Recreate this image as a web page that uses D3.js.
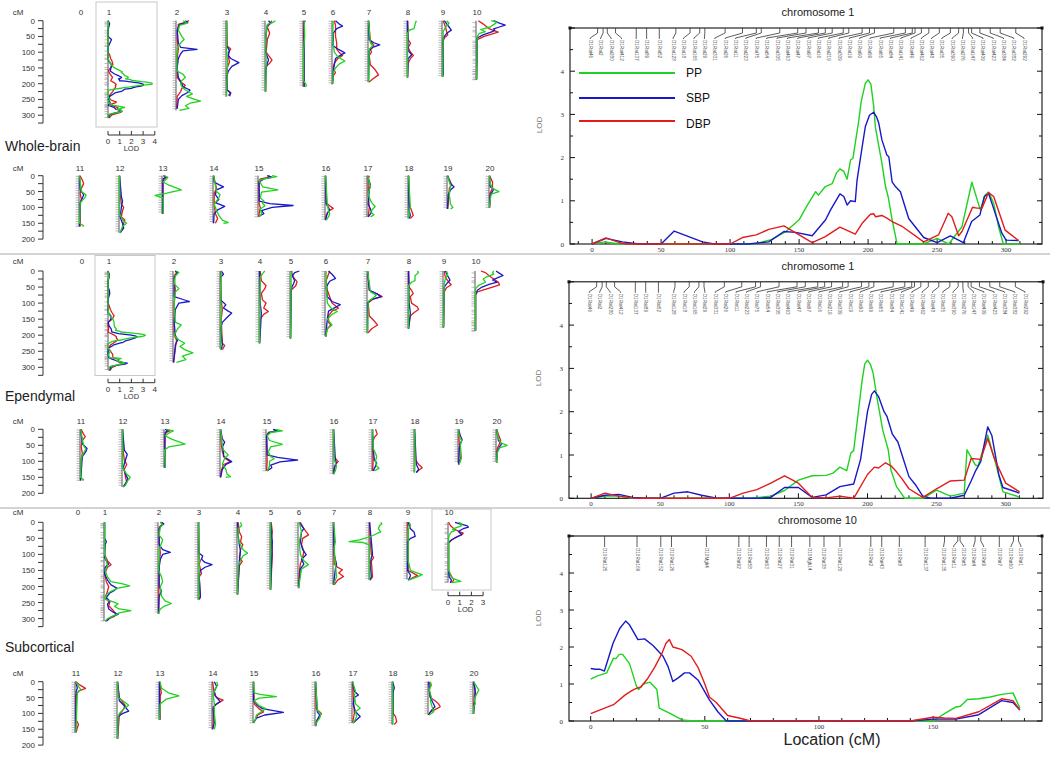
<!DOCTYPE html>
<html><head><meta charset="utf-8">
<script src="https://cdn.jsdelivr.net/npm/d3@7"></script>
<style>body{margin:0;background:#fff}svg{display:block}</style></head>
<body><svg id="c" width="1050" height="757"></svg>
<script>
// ---------------- DATA ----------------
const traits = ["PP", "SBP", "DBP"];
const panelNames = ["Whole-brain", "Ependymal", "Subcortical"];
const chrLengths = [0, 308, 285, 242, 225, 210, 203, 195, 180, 178, 187, 160, 180, 120, 150, 130, 140, 130, 135, 105, 102];

// chromosome 1 markers (cM) and names
const chr1Markers = [4,8,11,17,32,39.5,48.7,60.7,71,78,81.7,96.4,109,119,122.6,136,149,155,164,169,174,182,186,195.7,201,204.6,218.6,227,232,234,238.6,244,251.6,259.6,265.6,269,272.8,275,281,288.5,295.7,307];
const chr1MarkerNames = ["D1Rat46","D1Rat2","D1Rat280","D1Rat412","D1Rat137","D1Rat89","D1Rat52","D1Rat128","D1Rat18","D1Rat165","D1Rat29","D1Rat331","D1Rat26","D1Rat11","D1Rat223","D1Rat75","D1Rat54","D1Rat305","D1Rat463","D1Rat47","D1Rat97","D1Rat16","D1Rat219","D1Rat309","D1Rat19","D1Rat90","D1Rat99","D1Rat65","D1Rat84","D1Rat141","D1Rat49","D1Rat462","D1Rat48","D1Rat35","D1Rat390","D1Rat276","D1Rat147","D1Rat409","D1Rat423","D1Rat384","D1Rat382","D1Rat292"];
const chr10Markers = [6.1,20.3,30.7,35.4,50.7,64.9,69.4,77,82.6,88,96,102.2,109.2,122.7,127.5,135.2,146.5,155,160.8,161.8,168.4,170.9,179,185.2,187.4];
const chr10MarkerNames = ["D10Rat125","D10Rat169","D10Rat152","D10Rat126","D10Mgh4","D10Rat92","D10Rat58","D10Rat63","D10Rat27","D10Rat31","D10Mgh14","D10Rat38","D10Rat120","D10Rat2","D10Rat43","D10Rat8","D10Rat137","D10Rat135","D10Rat11","D10Rat5","D10Rat4","D10Rat9","D10Rat7","D10Rat60","D10Rat1"];

// Right-hand detailed scans: [cM, LOD]
const wb1PP = [[0,0],[9,0.05],[20,0],[115,0],[120,0.02],[130,0.1],[140,0.28],[150,0.56],[156,0.9],[162,1.21],[164,1.13],[169,1.33],[174,1.4],[177,1.64],[179.6,1.74],[182.4,1.68],[184.8,1.5],[187.3,1.95],[189,1.98],[193.3,2.87],[195,3.3],[198,3.72],[200,3.8],[202,3.7],[204,3.2],[205.3,2.7],[210,1.87],[212.6,1.33],[214.5,1.1],[217.4,0.56],[221,0],[240,0],[250,0.13],[258.4,0],[268,0.4],[275.2,1.43],[281.3,0.79],[284.9,1.14],[287.3,1.2],[291,0.94],[294.5,0.4],[298,0],[310,0]];
const wb1SBP = [[0,0],[10,0.13],[22,0.05],[34,0],[50,0],[59.5,0.3],[80,0.05],[88.4,0],[113,0],[128,0.05],[139,0.29],[147.5,0.27],[159.5,0.19],[169.2,0.56],[172.8,0.79],[179.6,1.16],[182.4,1.1],[184.8,0.9],[187.3,1.0],[190.7,0.98],[192,1.48],[195.7,2.25],[198,2.72],[201,2.98],[204,3.05],[206,2.95],[207.7,2.8],[210,2.41],[213.6,2.06],[215,2.02],[217.4,1.44],[219.8,1.33],[223.4,1.21],[229.4,0.59],[240.3,0.15],[250,0.03],[259.6,0.19],[269,0.03],[275,0.52],[281,0.67],[284.2,1.1],[287.3,1.17],[289.7,0.94],[296.9,0.25],[300,0.09],[309,0.08]];
const wb1DBP = [[0,0],[10,0.14],[20,0.03],[25,0],[100,0],[109,0.15],[119,0.21],[128,0.34],[139,0.42],[150,0.21],[159.5,0.03],[169,0.17],[179.6,0.39],[190.7,0.23],[195.7,0.48],[201.7,0.69],[204,0.7],[205.5,0.63],[210,0.66],[213.6,0.6],[217.4,0.52],[225,0.4],[240.3,0.05],[251,0.21],[256,0.56],[258,0.71],[260.7,0.63],[265.6,0.19],[268,0.29],[275.7,0.85],[278.8,0.83],[282.5,0.83],[287.3,1.19],[291,1.1],[299.3,0.32],[309,0.08]];

const ep1PP = [[0,0],[10,0.05],[20,0.05],[30,0],[115,0],[130,0.05],[140,0.18],[150,0.42],[160,0.52],[170,0.53],[175,0.58],[180,0.72],[185,0.64],[188,1.05],[190,1.1],[193,1.9],[196,2.7],[198,3.1],[200,3.19],[202,3.1],[204,2.9],[207,2.3],[211,1.58],[215,1.12],[217,0.65],[221,0.27],[227,0],[240,0],[250,0.19],[260,0.05],[270,0.12],[272,1.12],[278,0.77],[280,0.75],[287,1.46],[292,0.9],[298,0.15],[310,0.03]];
const ep1SBP = [[0,0],[10,0.07],[20,0.09],[30,0.02],[40,0],[50,0],[60,0.12],[70,0.15],[80,0.07],[90,0.01],[100,0],[120,0],[130,0.02],[140,0.25],[150,0.25],[160,0.02],[170,0.08],[180,0.27],[190,0.33],[195,0.9],[200,2.0],[203,2.4],[205,2.48],[208,2.35],[212,2.0],[214,1.9],[218,1.48],[222,1.3],[225,1.0],[230,0.5],[235,0.3],[240,0.05],[245,0.01],[260,0],[270,0.07],[275,0.4],[278,0.62],[282,0.85],[287,1.65],[290,1.45],[295,0.55],[298,0.25],[310,0.12]];
const ep1DBP = [[0,0],[10,0.12],[20,0.05],[30,0.01],[35,0],[100,0],[110,0.12],[120,0.2],[130,0.35],[140,0.52],[150,0.35],[160,0.02],[170,0.01],[180,0.05],[190,0],[200,0.55],[205,0.72],[208,0.7],[213,0.82],[217,0.75],[220,0.65],[225,0.45],[230,0.22],[240,0.02],[250,0.22],[260,0.4],[270,0.42],[275,0.92],[282,0.9],[287,1.38],[292,0.9],[300,0.35],[310,0.15]];

const sc10PP = [[0,1.13],[3,1.22],[7,1.3],[10,1.7],[11,1.68],[12.5,1.8],[14,1.8],[17,1.55],[20,0.95],[21,0.85],[23,1.0],[26,1.05],[29,0.85],[30,0.35],[35,0.2],[40,0.03],[45,0],[150,0],[155,0.2],[160,0.38],[162,0.4],[165,0.58],[170,0.6],[175,0.65],[180,0.72],[185,0.76],[188,0.35]];
const sc10SBP = [[0,1.42],[2,1.4],[4,1.4],[6,1.35],[9.8,2.1],[12.7,2.5],[15.3,2.7],[17,2.6],[20.7,2.2],[23.6,2.22],[27.3,2.04],[31.7,1.75],[33.9,1.47],[36,1.07],[38.2,1.16],[41.1,1.3],[43.3,1.3],[47,1.11],[52,0.57],[55.7,0.25],[59.4,0],[140,0],[150,0.05],[160,0.05],[170,0.17],[180,0.55],[185,0.5],[188,0.3]];
const sc10DBP = [[0,0.2],[10,0.44],[15,0.7],[18,0.82],[20,0.88],[22,0.92],[25,1.15],[28,1.45],[31,1.8],[33,2.1],[34.5,2.2],[36,2.0],[40,1.93],[44,1.75],[47,1.45],[50,1.0],[52,0.65],[55,0.5],[60,0.15],[65,0.08],[70,0],[140,0],[150,0.1],[155,0.08],[160,0.07],[170,0.25],[180,0.6],[185,0.55],[188,0.3]];

// Genome-wide small scans, per chromosome: [cM, LOD]
const wbPP = {1: wb1PP,
 2:[[0,0.6],[8,1.0],[15,0.3],[30,0.2],[50,0.5],[60,0.7],[70,0.4],[90,0.1],[120,0.05],[160,0.1],[170,0.6],[180,0.8],[190,0.5],[200,0.4],[210,0.5],[220,0.8],[232,1.4],[240,0.9],[250,1.6],[255,2.1],[262,1.2],[270,0.8],[278,1.1],[285,0.3]],
 3:[[0,0.05],[100,0.05],[130,0.15],[160,0.1],[240,0.05]],
 4:[[0,0.9],[5,0.7],[12,0.2],[60,0.05],[130,0.1],[225,0.05]],
 5:[[0,0.1],[50,0.15],[70,0.1],[100,0.05],[190,0.05],[205,0.3],[210,0.2]],
 6:[[0,0.1],[60,0.05],[100,0.2],[115,0.5],[128,1.1],[138,0.6],[150,0.3],[165,0.1],[200,0.05]],
 7:[[0,0.05],[70,0.2],[80,0.4],[90,0.1],[195,0.05]],
 8:[[0,0.8],[10,0.7],[25,0.6],[30,0.2],[40,0.05],[180,0.05]],
 9:[[0,0.4],[8,0.6],[20,0.3],[35,0.1],[178,0.05]],
 10:[[0,1.3],[5,1.8],[10,1.6],[20,1.2],[28,0.4],[35,0.8],[40,0.3],[50,0.1],[187,0.05]],
 11:[[0,0.05],[50,0.2],[60,0.6],[70,0.5],[85,0.1],[150,0.05],[158,0.4],[160,0.3]],
 12:[[0,0.05],[120,0.05],[140,0.3],[150,0.65],[160,0.3],[170,0.2],[180,0.1]],
 13:[[0,0.2],[5,0.5],[10,0.4],[20,0.1],[30,0.6],[45,1.65],[55,0.4],[62,-0.6],[70,0.1],[120,0.1]],
 14:[[0,0.05],[50,0.3],[60,0.6],[70,0.5],[80,0.3],[90,0.1],[110,0.3],[125,0.5],[140,0.8],[148,1.3],[150,0.9]],
 15:[[0,1.2],[3,1.6],[10,0.5],[15,0.1],[35,0.4],[45,1.7],[52,0.3],[70,0.2],[80,0.5],[88,0.4],[95,0.6],[105,0.2],[120,0.3],[130,0.1]],
 16:[[0,0.05],[90,0.2],[110,0.3],[120,0.4],[130,0.3],[140,0.1]],
 17:[[0,0.05],[20,0.2],[35,0.3],[55,0.1],[70,0.2],[85,0.4],[97,0.7],[105,0.5],[115,0.3],[123,0.6],[130,0.3]],
 18:[[0,0.05],[100,0.2],[110,0.1],[135,0.05]],
 19:[[0,0.05],[20,0.2],[30,0.3],[60,0.2],[90,0.3],[100,0.5],[105,0.3]],
 20:[[0,0.05],[25,0.1],[40,0.3],[50,0.85],[58,0.2],[75,0.1],[100,0.05]]};
const wbSBP = {1: wb1SBP,
 2:[[0,0.8],[5,1.0],[12,0.3],[30,0.1],[70,0.2],[85,0.4],[91,1.8],[96,0.6],[105,0.4],[120,0.2],[150,0.1],[180,0.2],[200,0.5],[210,0.6],[220,1.2],[228,1.0],[238,0.5],[250,0.2],[280,0.1]],
 3:[[0,0.05],[80,0.05],[95,0.3],[110,0.2],[120,0.4],[133,1.1],[145,0.5],[160,0.2],[180,0.05],[220,0.1],[230,0.4],[240,0.3]],
 4:[[0,0.3],[8,0.5],[15,0.2],[40,0.1],[100,0.05],[125,0.3],[135,0.2],[160,0.05],[225,0.05]],
 5:[[0,0.2],[5,0.1],[210,0.1]],
 6:[[0,0.3],[10,0.6],[17,0.9],[25,0.4],[40,0.1],[80,0.1],[92,0.6],[102,1.1],[110,0.7],[120,0.3],[140,0.2],[160,0.1],[200,0.05]],
 7:[[0,0.05],[60,0.1],[70,0.5],[77,1.0],[85,0.4],[95,0.1],[195,0.05]],
 8:[[0,0.05],[95,0.1],[108,0.4],[120,0.1],[180,0.05]],
 9:[[0,0.2],[10,0.4],[20,0.6],[30,0.8],[40,0.4],[55,0.1],[170,0.1],[178,0.05]],
 10:[[0,1.5],[8,2.0],[14,2.5],[20,2.0],[26,1.5],[30,1.6],[35,1.4],[45,0.6],[55,0.1],[187,0.05]],
 11:[[0,0.05],[45,0.1],[60,0.4],[70,0.3],[85,0.1],[160,0.05]],
 12:[[0,0.05],[65,0.2],[80,0.3],[100,0.2],[130,0.1],[150,0.3],[165,0.4],[180,0.1]],
 13:[[0,0.2],[5,0.3],[10,0.1],[120,0.05]],
 14:[[0,0.05],[20,0.1],[28,0.5],[35,0.9],[45,0.3],[60,0.2],[75,0.5],[85,0.2],[97,1.0],[108,0.4],[120,0.1],[150,0.05]],
 15:[[0,0.8],[5,1.2],[10,0.5],[20,0.1],[80,0.1],[88,1.0],[94,3.0],[100,1.2],[110,0.3],[120,0.5],[125,0.2],[130,0.1]],
 16:[[0,0.05],[90,0.1],[100,0.3],[108,0.4],[118,0.2],[140,0.05]],
 17:[[0,0.05],[30,0.3],[40,0.2],[90,0.1],[105,0.3],[115,0.4],[125,0.2],[130,0.1]],
 18:[[0,0.05],[110,0.1],[125,0.2],[135,0.1]],
 19:[[0,0.05],[25,0.3],[35,0.6],[45,0.3],[60,0.1],[105,0.05]],
 20:[[0,0.05],[35,0.1],[42,0.4],[50,0.3],[60,0.1],[100,0.05]]};
const wbDBP = {1: wb1DBP,
 2:[[0,1.1],[5,0.8],[12,0.2],[40,0.1],[60,0.1],[90,0.2],[120,0.1],[180,0.1],[195,0.4],[205,0.8],[215,0.5],[225,0.4],[240,0.1],[278,0.05]],
 3:[[0,0.05],[80,0.1],[90,0.4],[100,0.2],[115,0.2],[130,0.3],[150,0.1],[220,0.1],[228,0.4],[238,0.2]],
 4:[[0,0.6],[10,0.4],[20,0.2],[40,0.4],[60,0.2],[100,0.1],[110,0.3],[125,0.6],[135,0.4],[145,0.1],[225,0.05]],
 5:[[0,0.05],[210,0.1]],
 6:[[0,0.2],[15,0.3],[30,0.3],[50,0.3],[70,0.4],[90,0.4],[100,0.6],[110,0.9],[120,0.5],[135,0.2],[150,0.1],[165,0.3],[175,0.1],[200,0.05]],
 7:[[0,0.05],[65,0.2],[78,0.5],[90,0.2],[100,0.3],[110,0.1],[140,0.2],[155,0.6],[172,0.9],[185,0.4],[195,0.1]],
 8:[[0,0.05],[60,0.1],[72,0.3],[85,0.1],[100,0.3],[110,0.55],[120,0.3],[135,0.1],[180,0.05]],
 9:[[0,0.1],[20,0.3],[35,0.4],[45,0.5],[55,0.2],[70,0.05],[178,0.05]],
 10:[[0,0.2],[10,0.6],[25,1.1],[32,1.6],[36,1.9],[42,1.4],[50,0.7],[60,0.1],[187,0.05]],
 11:[[0,0.1],[15,0.3],[25,0.4],[40,0.2],[55,0.1],[75,0.2],[90,0.1],[160,0.1]],
 12:[[0,0.05],[60,0.1],[90,0.2],[100,0.4],[110,0.3],[130,0.2],[140,0.5],[150,0.4],[165,0.3],[180,0.1]],
 13:[[0,0.1],[5,0.4],[10,0.2],[20,0.05],[120,0.1]],
 14:[[0,0.05],[40,0.3],[55,0.1],[90,0.1],[120,0.2],[135,0.4],[150,0.2]],
 15:[[0,0.8],[4,1.1],[10,0.2],[20,0.05],[60,0.1],[90,0.1],[100,0.2],[130,0.05]],
 16:[[0,0.05],[85,0.1],[95,0.4],[103,0.7],[112,0.3],[125,0.1],[140,0.05]],
 17:[[0,0.2],[10,0.1],[30,0.1],[60,0.1],[100,0.2],[130,0.1]],
 18:[[0,0.05],[90,0.1],[110,0.3],[125,0.45],[135,0.2]],
 19:[[0,0.05],[20,0.3],[28,0.4],[40,0.2],[90,0.1],[105,0.05]],
 20:[[0,0.05],[20,0.3],[40,0.3],[55,0.1],[100,0.05]]};

const epPP = {1: ep1PP,
 2:[[0,0.3],[5,0.5],[15,0.2],[40,0.1],[55,0.5],[65,0.2],[100,0.1],[160,0.2],[168,0.7],[180,0.4],[200,0.1],[215,0.5],[225,1.0],[235,0.6],[245,1.0],[255,1.7],[265,0.8],[276,1.1],[285,0.3]],
 3:[[0,0.1],[50,0.05],[150,0.1],[245,0.05]],
 4:[[0,0.5],[8,0.3],[20,0.1],[225,0.05]],
 5:[[0,0.2],[10,0.1],[210,0.05]],
 6:[[0,0.1],[40,0.1],[100,0.2],[115,0.5],[126,1.05],[135,0.6],[150,0.2],[168,0.6],[180,0.2],[205,0.05]],
 7:[[0,0.05],[65,0.3],[75,0.8],[82,0.6],[95,0.1],[193,0.05]],
 8:[[0,0.8],[5,0.9],[15,0.6],[30,0.6],[35,0.3],[45,0.05],[180,0.05]],
 9:[[0,0.3],[10,0.4],[25,0.2],[40,0.1],[175,0.05]],
 10:[[0,1.6],[5,1.5],[10,1.6],[18,1.0],[25,0.7],[35,0.9],[45,0.3],[55,0.05],[185,0.05]],
 11:[[0,0.05],[50,0.3],[62,0.5],[75,0.3],[90,0.1],[150,0.05],[158,0.3],[160,0.2]],
 12:[[0,0.05],[120,0.05],[140,0.4],[150,0.7],[160,0.5],[175,0.3],[180,0.1]],
 13:[[0,0.2],[5,0.8],[10,0.5],[20,0.1],[30,0.6],[46,1.8],[55,0.4],[65,0.05],[120,0.1]],
 14:[[0,0.05],[50,0.2],[65,0.3],[80,0.7],[90,0.4],[110,0.2],[125,0.5],[140,0.6],[148,0.9],[150,0.5]],
 15:[[0,0.8],[5,1.4],[10,0.4],[20,0.1],[35,0.3],[47,1.4],[55,0.4],[70,0.2],[85,0.4],[92,0.7],[100,0.3],[115,0.3],[130,0.1]],
 16:[[0,0.05],[95,0.1],[115,0.3],[130,0.2],[140,0.05]],
 17:[[0,0.05],[60,0.1],[75,0.3],[85,0.4],[100,0.3],[115,0.4],[122,0.6],[130,0.2]],
 18:[[0,0.05],[100,0.1],[135,0.05]],
 19:[[0,0.05],[20,0.1],[35,0.3],[50,0.2],[90,0.3],[100,0.2],[110,0.1]],
 20:[[0,0.05],[30,0.2],[42,0.4],[50,0.95],[58,0.3],[75,0.1],[105,0.05]]};
const epSBP = {1: ep1SBP,
 2:[[0,0.2],[5,0.4],[20,0.1],[60,0.1],[80,0.1],[88,0.8],[95,1.4],[100,0.5],[120,0.2],[160,0.1],[200,0.2],[215,0.4],[230,0.2],[285,0.05]],
 3:[[0,0.1],[10,0.3],[20,0.05],[90,0.05],[105,0.5],[115,0.3],[125,0.7],[131,1.0],[145,0.6],[160,0.2],[180,0.05],[230,0.2],[245,0.1]],
 4:[[0,0.05],[100,0.1],[130,0.2],[200,0.1],[225,0.05]],
 5:[[0,0.8],[5,0.4],[15,0.2],[30,0.4],[40,0.3],[55,0.1],[210,0.05]],
 6:[[0,0.3],[10,0.6],[23,0.9],[32,0.4],[50,0.1],[80,0.2],[95,0.6],[105,1.3],[115,0.8],[125,0.3],[150,0.2],[205,0.05]],
 7:[[0,0.05],[60,0.2],[72,0.9],[80,1.2],[90,0.3],[100,0.05],[193,0.05]],
 8:[[0,0.05],[100,0.1],[130,0.2],[180,0.05]],
 9:[[0,0.2],[15,0.4],[28,0.6],[40,0.3],[50,0.1],[175,0.05]],
 10:[[0,1.8],[5,2.0],[14,2.4],[20,2.0],[28,1.5],[35,1.9],[42,1.2],[50,0.6],[60,0.2],[75,0.05],[185,0.05]],
 11:[[0,0.05],[45,0.2],[60,0.6],[70,0.5],[85,0.2],[160,0.05]],
 12:[[0,0.05],[65,0.2],[78,0.45],[95,0.3],[120,0.1],[140,0.3],[155,0.5],[170,0.3],[180,0.1]],
 13:[[0,0.1],[5,0.3],[10,0.1],[120,0.05]],
 14:[[0,0.05],[30,0.2],[40,0.4],[55,0.2],[70,0.3],[85,0.3],[101,1.0],[110,0.5],[125,0.2],[150,0.05]],
 15:[[0,0.6],[5,1.0],[10,0.3],[20,0.05],[80,0.1],[88,1.0],[96,2.7],[102,1.2],[112,0.4],[120,0.5],[130,0.1]],
 16:[[0,0.05],[95,0.2],[105,0.3],[120,0.1],[140,0.05]],
 17:[[0,0.05],[60,0.1],[95,0.2],[106,0.4],[115,0.3],[130,0.1]],
 18:[[0,0.05],[110,0.2],[125,0.4],[135,0.2]],
 19:[[0,0.05],[20,0.2],[33,0.35],[45,0.2],[60,0.1],[110,0.05]],
 20:[[0,0.05],[35,0.2],[45,0.5],[55,0.3],[70,0.1],[105,0.05]]};
const epDBP = {1: ep1DBP,
 2:[[0,0.2],[5,0.3],[15,0.1],[60,0.2],[100,0.1],[200,0.1],[215,0.3],[285,0.05]],
 3:[[0,0.05],[90,0.1],[120,0.2],[150,0.1],[225,0.2],[232,0.4],[245,0.2]],
 4:[[0,0.1],[30,0.2],[45,0.6],[55,0.5],[70,0.2],[90,0.3],[100,0.6],[115,0.4],[126,0.8],[135,0.4],[150,0.1],[225,0.05]],
 5:[[0,0.1],[20,0.3],[33,0.6],[45,0.5],[60,0.1],[210,0.05]],
 6:[[0,0.4],[10,0.3],[30,0.1],[60,0.2],[80,0.4],[100,0.6],[116,1.15],[125,0.6],[140,0.3],[160,0.3],[168,0.5],[180,0.2],[205,0.05]],
 7:[[0,0.05],[60,0.2],[70,0.8],[80,1.3],[88,0.5],[100,0.1],[140,0.2],[155,0.6],[168,0.9],[180,0.4],[193,0.1]],
 8:[[0,0.05],[50,0.1],[60,0.3],[70,0.45],[80,0.2],[100,0.3],[112,0.8],[120,0.9],[130,0.5],[140,0.2],[180,0.05]],
 9:[[0,0.1],[20,0.2],[35,0.5],[43,0.7],[52,0.3],[65,0.1],[175,0.05]],
 10:[[0,0.5],[5,0.9],[15,1.2],[25,1.6],[35,2.0],[43,2.1],[50,1.5],[58,0.8],[65,0.2],[75,0.05],[185,0.05]],
 11:[[0,0.1],[15,0.3],[23,0.45],[35,0.2],[55,0.1],[75,0.2],[95,0.1],[160,0.05]],
 12:[[0,0.05],[70,0.1],[95,0.2],[110,0.4],[125,0.2],[150,0.3],[165,0.4],[180,0.1]],
 13:[[0,0.2],[5,0.5],[10,0.2],[20,0.05],[120,0.1]],
 14:[[0,0.05],[40,0.1],[70,0.2],[90,0.4],[101,0.9],[110,0.3],[130,0.1],[150,0.05]],
 15:[[0,0.7],[5,0.95],[10,0.2],[20,0.05],[100,0.1],[130,0.05]],
 16:[[0,0.05],[85,0.1],[95,0.3],[101,0.45],[110,0.2],[140,0.05]],
 17:[[0,0.3],[15,0.45],[25,0.2],[40,0.05],[100,0.1],[130,0.05]],
 18:[[0,0.05],[95,0.1],[110,0.4],[120,0.7],[128,0.4],[135,0.2]],
 19:[[0,0.05],[40,0.1],[90,0.2],[110,0.05]],
 20:[[0,0.05],[15,0.2],[35,0.4],[45,0.3],[60,0.1],[105,0.05]]};

const scPP = {
 1:[[0,0.05],[100,0.05],[120,0.2],[135,0.3],[150,0.1],[170,0.3],[185,0.6],[192,1.6],[198,2.2],[205,1.2],[215,0.6],[225,0.2],[240,0.1],[248,0.8],[254,1.2],[262,0.9],[270,1.3],[275,2.3],[282,1.3],[290,0.9],[300,0.3],[308,0.1]],
 2:[[0,0.2],[8,0.4],[15,0.2],[40,0.1],[55,0.4],[65,0.3],[85,0.1],[120,0.1],[150,0.05],[170,0.3],[185,0.4],[200,0.2],[230,0.3],[245,0.6],[253,1.15],[262,0.5],[270,0.2],[278,0.1],[285,0.05]],
 3:[[0,0.05],[150,0.1],[240,0.05]],
 4:[[0,0.3],[10,0.4],[20,0.1],[50,0.1],[70,0.3],[85,0.5],[96,0.9],[105,0.5],[120,0.3],[135,0.1],[225,0.05]],
 5:[[0,0.05],[210,0.05]],
 6:[[0,0.1],[30,0.3],[60,0.1],[100,0.2],[120,0.5],[132,0.9],[145,0.3],[205,0.05]],
 7:[[0,0.05],[60,0.2],[80,0.1],[170,0.3],[195,0.05]],
 8:[[0,1.0],[5,1.1],[10,0.9],[20,0.8],[30,1.0],[38,0.5],[45,0.1],[55,-0.8],[60,-1.7],[63,-0.5],[70,0.05],[180,0.05]],
 9:[[0,0.2],[10,0.3],[25,0.1],[120,0.1],[150,0.3],[158,0.9],[163,1.3],[170,0.9],[178,0.3],[180,0.1]],
 10:[[0,0.9],[5,1.2],[12,1.1],[18,0.6],[22,0.4],[26,0.6],[30,0.3],[40,0.1],[50,0.05],[150,0.05],[160,0.2],[175,0.4],[184,1.1],[188,0.3]],
 11:[[0,0.05],[15,0.3],[25,0.5],[35,0.2],[140,0.1],[160,0.05]],
 12:[[0,0.05],[50,0.1],[60,0.5],[74,1.0],[85,0.6],[100,0.2],[110,0.1],[180,0.05]],
 13:[[0,0.1],[20,0.2],[35,0.8],[45,1.7],[55,0.6],[70,0.1],[120,0.05]],
 14:[[0,0.4],[10,0.5],[20,0.3],[40,0.1],[70,0.2],[100,0.2],[135,0.3],[150,0.2]],
 15:[[0,0.05],[35,0.1],[40,0.6],[47,2.0],[52,0.5],[60,0.1],[75,0.5],[85,1.1],[95,0.7],[105,0.3],[120,0.2],[130,0.05]],
 16:[[0,0.05],[90,0.2],[100,0.5],[115,0.4],[130,0.1],[140,0.05]],
 17:[[0,0.05],[30,0.3],[45,0.2],[70,0.3],[84,0.7],[95,0.3],[110,0.4],[125,0.2],[130,0.05]],
 18:[[0,0.05],[135,0.05]],
 19:[[0,0.2],[10,0.3],[25,0.1],[50,0.3],[60,0.2],[85,0.4],[95,0.5],[105,0.1]],
 20:[[0,0.05],[15,0.3],[26,0.5],[40,0.3],[55,0.1],[70,0.2],[80,0.05],[102,0.05]]};
const scSBP = {
 1:[[0,0.05],[50,0.05],[60,0.2],[70,0.1],[110,0.05],[120,0.2],[130,0.4],[140,0.1],[160,0.05],[180,0.3],[195,0.6],[205,1.1],[212,0.9],[220,0.5],[235,0.2],[245,0.5],[255,0.3],[270,0.4],[280,0.8],[287,1.2],[295,0.6],[308,0.2]],
 2:[[0,0.3],[5,0.5],[10,0.3],[20,0.1],[70,0.1],[85,0.4],[94,1.05],[100,0.4],[115,0.2],[140,0.1],[200,0.1],[215,0.3],[230,0.1],[285,0.05]],
 3:[[0,0.05],[95,0.05],[105,0.4],[115,0.3],[125,0.6],[132,1.2],[140,0.6],[150,0.2],[165,0.1],[230,0.2],[240,0.1]],
 4:[[0,0.05],[40,0.1],[70,0.2],[90,0.3],[120,0.2],[225,0.05]],
 5:[[0,0.05],[60,0.2],[210,0.05]],
 6:[[0,0.1],[10,0.3],[20,0.5],[30,0.3],[60,0.2],[85,0.4],[101,0.7],[115,0.3],[130,0.5],[145,0.2],[205,0.05]],
 7:[[0,0.05],[100,0.1],[130,0.3],[145,0.2],[195,0.05]],
 8:[[0,0.05],[100,0.3],[110,0.2],[130,0.1],[170,0.2],[180,0.05]],
 9:[[0,0.1],[20,0.3],[30,0.6],[44,0.7],[50,0.3],[60,0.05],[150,0.05],[165,0.3],[175,0.2],[180,0.1]],
 10:[[0,0.6],[5,1.0],[10,1.6],[15,1.75],[20,1.3],[28,0.9],[33,1.0],[38,1.2],[45,0.8],[55,0.3],[62,0.05],[150,0.05],[170,0.1],[180,0.3],[188,0.2]],
 11:[[0,0.05],[20,0.2],[30,0.1],[160,0.05]],
 12:[[0,0.05],[60,0.2],[75,0.6],[93,1.0],[100,0.5],[110,0.1],[180,0.05]],
 13:[[0,0.05],[120,0.05]],
 14:[[0,0.2],[15,0.4],[30,0.2],[45,0.3],[63,0.7],[72,0.3],[85,0.1],[130,0.2],[150,0.05]],
 15:[[0,0.05],[60,0.05],[75,0.4],[85,0.8],[97,2.6],[105,1.0],[115,0.3],[125,0.1],[130,0.05]],
 16:[[0,0.05],[95,0.2],[105,0.4],[120,0.2],[140,0.05]],
 17:[[0,0.05],[30,0.2],[42,0.55],[50,0.2],[70,0.1],[95,0.3],[110,0.7],[120,0.4],[130,0.1]],
 18:[[0,0.05],[20,0.2],[30,0.1],[135,0.05]],
 19:[[0,0.05],[20,0.1],[50,0.2],[65,0.4],[79,0.6],[90,0.3],[105,0.05]],
 20:[[0,0.05],[35,0.2],[102,0.05]]};
const scDBP = {
 1:[[0,0.05],[100,0.05],[120,0.3],[132,0.6],[140,0.3],[160,0.05],[185,0.2],[200,0.4],[215,0.3],[235,0.1],[250,0.5],[260,0.4],[275,0.8],[285,1.0],[293,0.9],[300,0.4],[308,0.1]],
 2:[[0,0.2],[5,0.4],[15,0.1],[60,0.1],[95,0.2],[130,0.1],[285,0.05]],
 3:[[0,0.05],[110,0.1],[120,0.2],[130,0.1],[160,0.3],[170,0.1],[235,0.2],[240,0.1]],
 4:[[0,0.1],[30,0.2],[45,0.4],[60,0.3],[70,0.5],[85,0.3],[110,0.2],[122,0.45],[135,0.2],[225,0.05]],
 5:[[0,0.1],[30,0.2],[50,0.1],[100,0.2],[210,0.05]],
 6:[[0,0.2],[20,0.5],[39,0.9],[50,0.4],[70,0.3],[90,0.5],[110,0.4],[130,0.2],[160,0.1],[205,0.05]],
 7:[[0,0.05],[130,0.1],[140,0.4],[148,0.8],[158,0.5],[169,0.9],[180,0.4],[195,0.1]],
 8:[[0,0.05],[60,0.1],[100,0.2],[110,0.4],[120,0.2],[170,0.3],[180,0.1]],
 9:[[0,0.05],[40,0.1],[150,0.1],[160,0.6],[166,0.9],[172,0.5],[180,0.2]],
 10:[[0,0.05],[10,0.2],[20,0.5],[28,0.9],[34,1.3],[40,1.1],[48,0.6],[55,0.3],[65,0.05],[150,0.05],[165,0.2],[178,0.5],[185,0.4],[188,0.2]],
 11:[[0,0.1],[10,0.4],[21,0.9],[30,0.3],[45,0.05],[120,0.1],[135,0.3],[145,0.2],[160,0.1]],
 12:[[0,0.05],[50,0.2],[65,0.5],[75,0.7],[90,0.5],[105,0.2],[180,0.05]],
 13:[[0,0.05],[35,0.2],[45,0.1],[120,0.1]],
 14:[[0,0.05],[40,0.2],[50,0.4],[58,0.95],[68,0.5],[80,0.1],[130,0.1],[150,0.05]],
 15:[[0,0.05],[70,0.1],[85,0.5],[95,0.9],[105,0.4],[120,0.2],[130,0.05]],
 16:[[0,0.05],[85,0.1],[100,0.55],[110,0.4],[125,0.1],[140,0.05]],
 17:[[0,0.05],[40,0.1],[100,0.2],[130,0.05]],
 18:[[0,0.05],[100,0.1],[110,0.3],[126,0.4],[135,0.2]],
 19:[[0,0.05],[10,0.2],[30,0.1],[50,0.2],[60,0.6],[70,0.9],[79,1.05],[88,0.6],[95,0.2],[105,0.05]],
 20:[[0,0.05],[25,0.2],[50,0.1],[102,0.05]]};

// ---------------- LAYOUT ----------------
const COL = {PP: "#1fd21f", SBP: "#1818c8", DBP: "#e21c1c"};
const panelLayouts = [
  {nameY: 151, cmX: 43, lodAxis: {y: 135, x: 108, max: 4}, box: [96, 2, 61, 125],
   rows: [{y0: 20.7, k: 0.315, labY: 15, max: 325, xs: [80,108,176,226,265,303,332,368,407,442,476]},
          {y0: 175.7, k: 0.317, labY: 170.5, max: 200, xs: [79,119,162,213,258,325,367,408,447,489]}]},
  {nameY: 401, cmX: 43, lodAxis: {y: 382.7, x: 108, max: 4}, box: [95, 255.5, 60, 120],
   rows: [{y0: 271, k: 0.321, labY: 264, max: 325, xs: [81,108,173,220,259,290,325,367,408,443,475]},
          {y0: 429.3, k: 0.32, labY: 423.5, max: 200, xs: [80,122,164,220,266,333,372,414,458,496]}]},
  {nameY: 652, cmX: 43, lodAxis: {y: 595.7, x: 448, max: 3}, box: [432, 509, 59, 81],
   rows: [{y0: 522.3, k: 0.321, labY: 515, max: 325, xs: [77,104,158,198,237,270,298,333,369,407,448]},
          {y0: 681.7, k: 0.317, labY: 676, max: 200, xs: [75,117,159,212,253,315,352,392,428,473]}]}
];
const panelData = [
  {PP: wbPP, SBP: wbSBP, DBP: wbDBP},
  {PP: epPP, SBP: epSBP, DBP: epDBP},
  {PP: scPP, SBP: scSBP, DBP: scDBP}
];
const LODPX = 11.7;

const svg = d3.select("#c");
const FONT = "Liberation Sans, Arial, sans-serif";

// separators
[254, 508].forEach(y => svg.append("line").attr("x1", 0).attr("x2", 1050).attr("y1", y).attr("y2", y)
  .attr("stroke", "#c4c4c4").attr("stroke-width", 1.5));

panelLayouts.forEach((L, pi) => {
  const g = svg.append("g");
  const D = panelData[pi];
  g.append("rect").attr("x", L.box[0]).attr("y", L.box[1]).attr("width", L.box[2]).attr("height", L.box[3])
    .attr("fill", "none").attr("stroke", "#c8c8c8").attr("stroke-width", 1);
  g.append("text").attr("x", 5).attr("y", L.nameY).text(panelNames[pi])
    .attr("font-family", FONT).attr("font-size", 14).attr("fill", "#222");
  const la = L.lodAxis;
  const ls = d3.scaleLinear().domain([0, la.max]).range([la.x, la.x + la.max * LODPX]);
  g.append("line").attr("x1", ls(0)).attr("x2", ls(la.max)).attr("y1", la.y).attr("y2", la.y).attr("stroke", "#333");
  d3.range(0, la.max + 1).forEach(v => {
    g.append("line").attr("x1", ls(v)).attr("x2", ls(v)).attr("y1", la.y).attr("y2", la.y - 4).attr("stroke", "#333");
    g.append("text").attr("x", ls(v)).attr("y", la.y + 9).text(v).attr("text-anchor", "middle")
      .attr("font-family", FONT).attr("font-size", 8).attr("fill", "#333");
  });
  g.append("text").attr("x", ls(la.max / 2)).attr("y", la.y + 16).text("LOD").attr("text-anchor", "middle")
    .attr("font-family", FONT).attr("font-size", 7.5).attr("fill", "#333");

  L.rows.forEach((R, ri) => {
    const yS = d3.scaleLinear().domain([0, 1]).range([R.y0, R.y0 + R.k]);
    g.append("text").attr("x", 18).attr("y", R.labY).text("cM").attr("text-anchor", "middle")
      .attr("font-family", FONT).attr("font-size", 8).attr("fill", "#333");
    g.append("line").attr("x1", L.cmX).attr("x2", L.cmX).attr("y1", yS(0)).attr("y2", yS(R.max)).attr("stroke", "#333");
    d3.range(0, R.max + 1, 25).forEach(v => {
      g.append("line").attr("x1", L.cmX - 5).attr("x2", L.cmX).attr("y1", yS(v)).attr("y2", yS(v)).attr("stroke", "#333");
      if (v % 50 === 0) g.append("text").attr("x", L.cmX - 8).attr("y", yS(v) + 3).text(v).attr("text-anchor", "end")
        .attr("font-family", FONT).attr("font-size", 8).attr("fill", "#333");
    });
    const chrs = ri === 0 ? d3.range(0, 11) : d3.range(11, 21);
    chrs.forEach((c, i) => {
      const x = R.xs[i];
      g.append("text").attr("x", x + 1).attr("y", R.labY).text(c).attr("text-anchor", "middle")
        .attr("font-family", FONT).attr("font-size", 8).attr("fill", "#333");
      if (c === 0) return;
      const len = chrLengths[c];
      g.append("line").attr("x1", x).attr("x2", x).attr("y1", yS(0)).attr("y2", yS(len)).attr("stroke", "#555").attr("stroke-width", 1);
      const marks = c === 1 ? chr1Markers : (c === 10 ? chr10Markers : d3.range(2, len, 7.5));
      marks.forEach(m => g.append("line").attr("x1", x - 3.5).attr("x2", x).attr("y1", yS(m)).attr("y2", yS(m))
        .attr("stroke", "#8a8a8a").attr("stroke-width", 0.6));
      ["DBP", "SBP", "PP"].forEach(t => {
        const pts = D[t][c];
        if (!pts) return;
        const line = d3.line().x(d => x + d[1] * LODPX).y(d => yS(d[0]));
        g.append("path").attr("d", line(pts)).attr("fill", "none").attr("stroke", COL[t]).attr("stroke-width", 1.3)
          .attr("stroke-linejoin", "round");
      });
    });
  });
});

// ---------------- Detailed plots ----------------
function spread(xs, gap, lo, hi) {
  const p = xs.slice();
  for (let it = 0; it < 800; it++) {
    for (let i = 1; i < p.length; i++) {
      const d = p[i] - p[i - 1];
      if (d < gap) { const m = (gap - d) / 2; p[i - 1] -= m; p[i] += m; }
    }
    if (p[0] < lo) p[0] = lo;
    if (p[p.length - 1] > hi) p[p.length - 1] = hi;
  }
  return p;
}

const bigPlots = [
  {title: "chromosome 1", x0: 570, x1: 1042, y0: 28, y1: 244, dom: [-16, 326], ticks: [0,50,100,150,200,250,300],
   markers: chr1Markers, names: chr1MarkerNames, series: {PP: wb1PP, SBP: wb1SBP, DBP: wb1DBP}, legend: true, lodY: 125, gap: 10.45},
  {title: "chromosome 1", x0: 569, x1: 1043, y0: 281.8, y1: 498.3, dom: [-16, 327], ticks: [0,50,100,150,200,250,300],
   markers: chr1Markers, names: chr1MarkerNames, series: {PP: ep1PP, SBP: ep1SBP, DBP: ep1DBP}, legend: false, lodY: 378, gap: 10.45},
  {title: "chromosome 10", x0: 569, x1: 1042, y0: 536, y1: 721, dom: [-9.5, 197.7], ticks: [0,50,100,150],
   markers: chr10Markers, names: chr10MarkerNames, series: {PP: sc10PP, SBP: sc10SBP, DBP: sc10DBP}, legend: false, lodY: 618, gap: 10, xlabel: "Location (cM)"}
];

bigPlots.forEach(P => {
  const g = svg.append("g");
  const x = d3.scaleLinear().domain(P.dom).range([P.x0, P.x1]);
  const y = d3.scaleLinear().domain([0, 5]).range([P.y1, P.y0]);
  g.append("rect").attr("x", P.x0).attr("y", P.y0).attr("width", P.x1 - P.x0).attr("height", P.y1 - P.y0)
    .attr("fill", "none").attr("stroke", "#111").attr("stroke-width", 1.1);
  [P.x0, P.x1].forEach(cx => g.append("rect").attr("x", cx - 1.5).attr("y", P.y0 - 1.5).attr("width", 3).attr("height", 3).attr("fill", "#111"));
  g.append("text").attr("x", (P.x0 + P.x1) / 2 + 12).attr("y", P.y0 - 12).text(P.title).attr("text-anchor", "middle")
    .attr("font-family", FONT).attr("font-size", 11).attr("fill", "#222");
  d3.range(0, 5.01, 0.5).forEach(v => {
    const L = Number.isInteger(v) ? 5 : 3;
    g.append("line").attr("x1", P.x0).attr("x2", P.x0 + L).attr("y1", y(v)).attr("y2", y(v)).attr("stroke", "#111");
    g.append("line").attr("x1", P.x1).attr("x2", P.x1 - L).attr("y1", y(v)).attr("y2", y(v)).attr("stroke", "#111");
    if (Number.isInteger(v) && v < 5) g.append("text").attr("x", P.x0 - 6).attr("y", y(v) + 2.5).text(v).attr("text-anchor", "end")
      .attr("font-family", "Liberation Serif, serif").attr("font-size", 7).attr("fill", "#333");
  });
  d3.range(Math.ceil(P.dom[0] / 10) * 10, P.dom[1], 10).forEach(v => {
    const L = v % 50 === 0 ? 5 : 3;
    g.append("line").attr("x1", x(v)).attr("x2", x(v)).attr("y1", P.y1).attr("y2", P.y1 - L).attr("stroke", "#111");
  });
  P.ticks.forEach(v => g.append("text").attr("x", x(v)).attr("y", P.y1 + 8).text(v).attr("text-anchor", "middle")
    .attr("font-family", "Liberation Serif, serif").attr("font-size", 7).attr("fill", "#333"));
  g.append("text").attr("transform", `translate(${P.x0 - 28},${P.lodY}) rotate(-90)`).text("LOD").attr("text-anchor", "middle")
    .attr("font-family", FONT).attr("font-size", 8).attr("fill", "#777");
  if (P.xlabel) g.append("text").attr("x", 832).attr("y", 745).text(P.xlabel).attr("text-anchor", "middle")
    .attr("font-family", FONT).attr("font-size", 16).attr("fill", "#222");
  const mx = P.markers.map(m => x(m));
  const lx = spread(mx, P.gap, x(P.dom[0]) + 20, x(P.dom[1]) - 18);
  mx.forEach((m, i) => {
    g.append("path").attr("d", `M${m},${P.y0}L${m},${P.y0 + 5}L${lx[i]},${P.y0 + 10}L${lx[i]},${P.y0 + 11}`)
      .attr("fill", "none").attr("stroke", "#333").attr("stroke-width", 0.8);
    g.append("text").attr("transform", `translate(${lx[i] - 1.5},${P.y0 + 12}) rotate(90)`).text(P.names[i])
      .attr("font-family", FONT).attr("font-size", 4.6).attr("fill", "#555");
  });
  const line = d3.line().x(d => x(d[0])).y(d => y(d[1]));
  traits.forEach(t => g.append("path").attr("d", line(P.series[t])).attr("fill", "none").attr("stroke", COL[t])
    .attr("stroke-width", 1.4).attr("stroke-linejoin", "round"));
  if (P.legend) {
    const ly = [73, 98, 121];
    traits.forEach((t, i) => {
      g.append("line").attr("x1", 579).attr("x2", 675).attr("y1", ly[i]).attr("y2", ly[i]).attr("stroke", COL[t]).attr("stroke-width", 2);
      g.append("text").attr("x", 686).attr("y", ly[i] + 4 + (i === 2 ? 3 : 0)).text(t)
        .attr("font-family", FONT).attr("font-size", 12).attr("fill", "#111");
    });
  }
});
</script></body></html>
